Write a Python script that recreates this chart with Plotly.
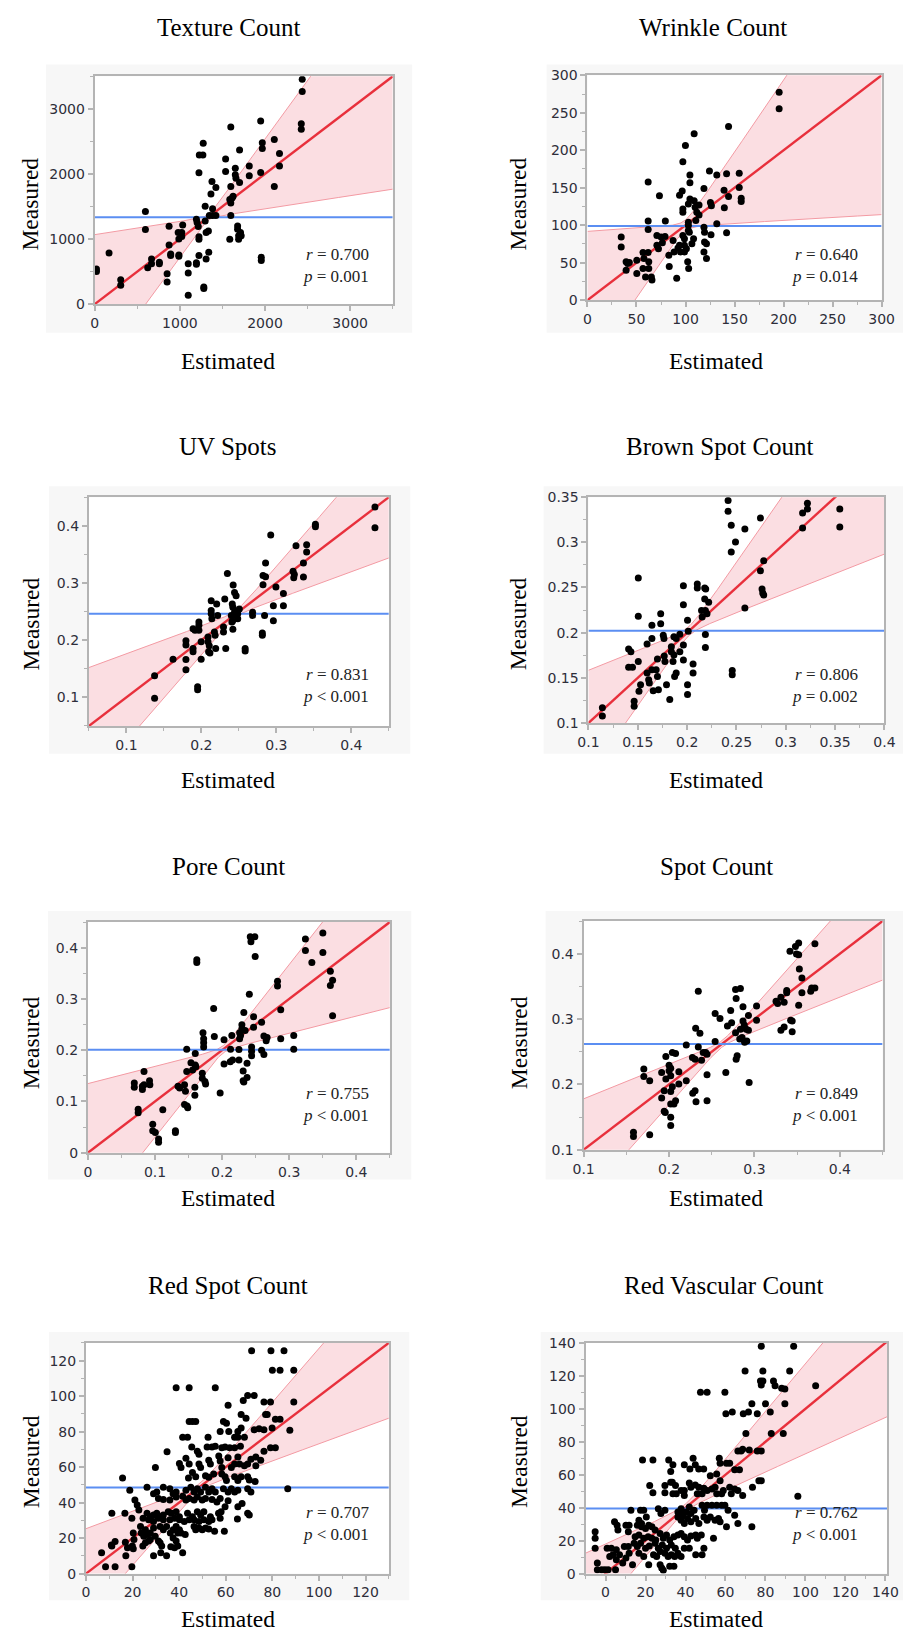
import numpy as np
import plotly.graph_objects as go

W, H = 916, 1643

# ---------------- data ----------------
titles = ["Texture Count", "Wrinkle Count", "UV Spots", "Brown Spot Count",
          "Pore Count", "Spot Count", "Red Spot Count", "Red Vascular Count"]
r_values = ["0.700", "0.640", "0.831", "0.806", "0.755", "0.849", "0.707", "0.762"]
p_values = ["= 0.001", "= 0.014", "&lt; 0.001", "= 0.002",
            "&lt; 0.001", "&lt; 0.001", "&lt; 0.001", "&lt; 0.001"]
mean_measured = [1333, 99, 0.246, 0.202, 0.201, 0.262, 48.5, 39.5]
band_slope_dev = [0.80, 0.924, 0.52, 0.57, 0.67, 0.48, 0.52, 0.45]
band_waist = [45, 7, 0.006, 0.005, 0.007, 0.005, 2.0, 2.2]
x_ranges = [[0, 3500], [0, 300], [0.05, 0.45], [0.1, 0.4], [0, 0.45], [0.1, 0.45], [0, 130], [-10, 141]]
y_ranges = [[0, 3500], [0, 300], [0.05, 0.45], [0.1, 0.35], [0, 0.45], [0.1, 0.45], [0, 130], [0, 140]]
x_dtick = [1000, 50, 0.1, 0.05, 0.1, 0.1, 20, 20]
y_dtick = [1000, 50, 0.1, 0.05, 0.1, 0.1, 20, 20]

texture_pts = [(20,540),(20,500),(168,785),(305,375),(305,289),(595,1424),(595,1145),(622,557),(667,694),(667,618),
    (759,643),(759,620),(850,466),(850,340),(873,1196),(873,907),(892,770),(892,745),(980,1100),(988,1000),(988,755),
    (988,735),(1022,1100),(1022,1039),(1033,1216),(1098,618),(1098,476),(1098,137),(1194,634),(1194,613),(1224,2017),
    (1228,2291),(1270,2291),(1274,2473),(1194,1302),(1202,1252),(1216,1191),(1224,1034),(1224,998),(1224,745),
    (1297,1505),(1297,1277),(1308,1100),(1308,694),(1281,263),(1281,238),(1335,1125),(1339,796),(1365,1692),
    (1377,1885),(1384,1464),(1384,1363),(1423,1793),(1423,1363),(1346,1363),(1537,2229),(1537,2037),(1598,2720),
    (1598,1808),(1586,1606),(1598,1555),(1613,1631),(1625,1657),(1598,1363),(1586,998),(1651,2087),(1651,1986),
    (1659,1935),(1678,1201),(1678,1150),(1690,1049),(1690,998),(1701,2366),(1701,1869),(1712,1100),(1720,1049),
    (1815,2123),(1815,1971),(1949,2812),(1949,2022),(1968,2478),(1968,2391),(1956,720),(1956,669),(2109,2529),
    (2109,1808),(2170,2316),(2170,2123),(2437,3455),(2437,3268),(2426,2771),(2426,2685)]

wrinkle_pts = [(34.4,84.1),(34.4,70.9),(39.4,51.1),(41,48.9),(39.4,40),(42.7,50.2),(50.3,53.3),(50.3,35.7),
    (56.6,63.4),(57.6,55.5),(56.6,42.3),(59.2,30.8),(61.9,157.7),(61.9,105.7),(61.9,94.3),(61.9,63.4),(62.5,51.1),
    (62.5,42.3),(65.2,30.8),(65.8,26.9),(70.8,86.3),(70.8,73.1),(72.4,68.7),(73.4,139.2),(75.1,84.1),(76.4,76.7),
    (79.1,85),(79.4,105.7),(83,59.9),(83.4,44.9),(87.3,79.7),(88.3,64.3),(91,29.1),(92.3,69.6),(93.9,73.1),(94.9,64.3),
    (93.9,140.1),(96.6,145.8),(97.3,184.6),(97.3,121.6),(97.3,117.2),(97.3,86.3),(98.9,81.9),(98.9,73.1),(98.9,64.3),
    (99.9,206.2),(100.9,68.7),(102.2,51.1),(103.2,42.3),(102.9,104),(102.9,99.6),(102.9,93),(103.9,90.7),(102.9,128.2),
    (104.5,167),(104.5,156.8),(104.5,134.8),(106.5,75.3),(108.2,81.9),(108.8,222),(108.8,132.6),(109.8,123.8),
    (111.5,117.2),(110.5,106.2),(113.8,126.9),(113.8,113.7),(118.8,148.9),(118.8,97.4),(119.4,90.7),(119.4,77.5),
    (121.4,75.3),(118.8,64.3),(121.4,55.5),(124.4,172.2),(125.4,130.4),(126.4,126),(126,87.2),(131.9,167),(131.9,101.8),
    (139.3,146.7),(139.6,123.3),(141.9,168.7),(141.9,89.9),(143.9,231.7),(143.9,138.3),(154.8,169.2),(154.8,150.2),
    (156.8,136.1),(156.8,131.7),(195.5,277.5),(195.5,255.5)]

uv_pts = [(0.1376,0.1379),(0.1376,0.0983),(0.1622,0.1667),(0.1794,0.1989),(0.1794,0.1914),(0.1794,0.1661),
    (0.1794,0.1483),(0.1889,0.2201),(0.1915,0.2172),(0.1889,0.1856),(0.1889,0.1799),(0.195,0.1184),(0.195,0.1132),
    (0.1967,0.2316),(0.1967,0.2259),(0.1967,0.2172),(0.1997,0.1971),(0.1997,0.1667),(0.2088,0.2057),(0.2088,0.1971),
    (0.2105,0.1902),(0.2096,0.1799),(0.2114,0.1776),(0.2131,0.269),(0.2131,0.2517),(0.2131,0.246),(0.214,0.2374),
    (0.2174,0.2144),(0.2183,0.2086),(0.2204,0.2632),(0.2191,0.1856),(0.2217,0.2431),(0.2295,0.223),(0.2295,0.2144),
    (0.2312,0.2718),(0.2325,0.1856),(0.2347,0.3167),(0.2399,0.2431),(0.2407,0.2316),(0.2416,0.2333),(0.2412,0.2632),
    (0.242,0.2575),(0.2424,0.2966),(0.242,0.219),(0.2442,0.2833),(0.2442,0.2489),(0.2463,0.2431),(0.2485,0.2374),
    (0.2506,0.2546),(0.2463,0.2776),(0.2485,0.246),(0.2584,0.1856),(0.2584,0.181),(0.2683,0.2489),(0.2683,0.2431),
    (0.2813,0.2126),(0.2813,0.2086),(0.2822,0.2971),(0.2822,0.3132),(0.2843,0.2431),(0.2856,0.335),(0.2856,0.3109),
    (0.2925,0.3839),(0.296,0.2603),(0.296,0.2339),(0.2994,0.2931),(0.3094,0.2816),(0.3094,0.2603),(0.3223,0.3207),
    (0.3232,0.3092),(0.324,0.315),(0.3262,0.3649),(0.3361,0.335),(0.3361,0.3103),(0.3404,0.3667),(0.3404,0.354),
    (0.3521,0.4029),(0.3521,0.3983),(0.4315,0.4328),(0.4315,0.3966)]

brown_pts = [(0.1141,0.1168),(0.1141,0.1077),(0.1407,0.1819),(0.143,0.1789),(0.1446,0.1618),(0.1407,0.1618),
    (0.1463,0.1241),(0.1463,0.1186),(0.1505,0.2604),(0.1505,0.2181),(0.1505,0.168),(0.1512,0.1351),(0.1528,0.1424),
    (0.1594,0.1874),(0.1594,0.1552),(0.1610,0.1479),(0.1617,0.1442),(0.1643,0.2082),(0.1643,0.1936),(0.1643,0.1588),
    (0.1656,0.1358),(0.1686,0.1588),(0.1699,0.1515),(0.1709,0.1369),(0.1699,0.1709),(0.1732,0.221),(0.1732,0.21),
    (0.1758,0.1972),(0.1765,0.1936),(0.1768,0.1742),(0.1775,0.168),(0.1791,0.1424),(0.1824,0.1259),(0.184,0.1844),
    (0.184,0.1789),(0.1857,0.168),(0.1866,0.1753),(0.1866,0.1954),(0.1889,0.1936),(0.1926,0.1983),(0.1873,0.1515),
    (0.1889,0.1552),(0.1926,0.1789),(0.1962,0.252),(0.1962,0.2308),(0.1962,0.1863),(0.1962,0.1698),(0.2004,0.2137),
    (0.2011,0.2016),(0.2004,0.1424),(0.2004,0.1314),(0.206,0.1654),(0.206,0.1552),(0.2103,0.2539),(0.2103,0.2495),
    (0.2146,0.2246),(0.2152,0.2173),(0.2178,0.2495),(0.2188,0.2484),(0.2178,0.2374),(0.2185,0.2246),(0.2201,0.221),
    (0.2185,0.198),(0.2185,0.1837),(0.2218,0.2338),(0.2415,0.3463),(0.2415,0.3343),(0.2447,0.3189),(0.2447,0.2893),
    (0.2457,0.1581),(0.2457,0.1534),(0.249,0.3003),(0.2585,0.3149),(0.2585,0.2272),(0.2743,0.327),(0.2743,0.2685),
    (0.2759,0.2484),(0.2766,0.244),(0.2776,0.2418),(0.2776,0.2795),(0.317,0.3325),(0.317,0.316),(0.3219,0.3434),
    (0.3219,0.3368),(0.3547,0.3368),(0.3547,0.3171)]

pore_pts = [(0.0691,0.1359),(0.0691,0.1276),(0.0749,0.0846),(0.0749,0.0782),(0.0812,0.1295),(0.0812,0.1231),
    (0.0836,0.1327),(0.0836,0.1583),(0.0918,0.1404),(0.0923,0.1327),(0.0966,0.0558),(0.0966,0.0429),(0.1005,0.0397),
    (0.1053,0.0269),(0.1053,0.0205),(0.1116,0.084),(0.1304,0.0429),(0.1304,0.0397),(0.1343,0.1295),(0.1367,0.1263),
    (0.144,0.1327),(0.1454,0.1199),(0.144,0.0942),(0.1478,0.091),(0.1488,0.0878),(0.1473,0.2019),(0.1473,0.1583),
    (0.1536,0.1756),(0.156,0.1615),(0.16,0.1936),(0.16,0.1712),(0.1609,0.1679),(0.1594,0.1276),(0.1594,0.1122),
    (0.1623,0.3763),(0.1623,0.3712),(0.1705,0.1551),(0.1705,0.1455),(0.1715,0.234),(0.1725,0.2224),(0.1725,0.2147),
    (0.1725,0.2064),(0.1744,0.1391),(0.1754,0.134),(0.1874,0.2814),(0.1884,0.2269),(0.1971,0.1167),(0.2029,0.2205),
    (0.2029,0.1731),(0.2126,0.2019),(0.2145,0.2288),(0.2121,0.1776),(0.2155,0.1808),(0.2251,0.1808),(0.2261,0.2224),
    (0.2275,0.2288),(0.2261,0.234),(0.2295,0.2494),(0.2295,0.2417),(0.2251,0.2013),(0.2314,0.1596),(0.2314,0.1404),
    (0.2324,0.1378),(0.2324,0.2737),(0.2343,0.2385),(0.2372,0.1744),(0.2372,0.1468),(0.2406,0.309),(0.242,0.4212),
    (0.243,0.4115),(0.2488,0.4212),(0.244,0.2064),(0.244,0.1981),(0.244,0.1891),(0.2469,0.2654),(0.2469,0.2449),
    (0.2493,0.3827),(0.2589,0.2545),(0.2589,0.2),(0.2623,0.1917),(0.2623,0.2276),(0.2657,0.2186),(0.2671,0.225),
    (0.2826,0.3346),(0.2826,0.325),(0.2874,0.2788),(0.2874,0.2224),(0.3068,0.2288),(0.3068,0.2019),(0.3242,0.4167),
    (0.3242,0.3942),(0.3338,0.3712),(0.3502,0.4288),(0.3502,0.3904),(0.3614,0.3538),(0.3614,0.3263),(0.3647,0.3365),
    (0.3647,0.2673)]

spot_pts = [(0.1584,0.1269),(0.1584,0.1203),(0.1705,0.2234),(0.1705,0.2122),(0.1774,0.2056),(0.1774,0.1228),
    (0.1914,0.2183),(0.1914,0.1792),(0.1944,0.1904),(0.1944,0.1589),(0.1956,0.1569),(0.1963,0.2426),(0.1963,0.2081),
    (0.2001,0.2294),(0.2001,0.2208),(0.202,0.2249),(0.202,0.2132),(0.202,0.1893),(0.202,0.17),(0.202,0.1497),
    (0.202,0.1371),(0.2039,0.2487),(0.2077,0.2472),(0.2039,0.1964),(0.2058,0.17),(0.2077,0.1751),(0.2115,0.2193),
    (0.2115,0.2005),(0.2202,0.2604),(0.2202,0.2056),(0.2274,0.2411),(0.2305,0.2386),(0.2278,0.1863),(0.2305,0.1904),
    (0.2312,0.2858),(0.2316,0.1736),(0.2343,0.2574),(0.2343,0.3426),(0.2362,0.2782),(0.2381,0.2371),(0.24,0.2487),
    (0.243,0.2487),(0.2445,0.2147),(0.2445,0.1751),(0.2445,0.2462),(0.254,0.3086),(0.254,0.2655),(0.2597,0.301),
    (0.2665,0.2183),(0.2684,0.2893),(0.2722,0.3132),(0.2733,0.2944),(0.2779,0.3452),(0.2786,0.3315),(0.2779,0.2792),
    (0.2786,0.2386),(0.2798,0.2437),(0.2828,0.2695),(0.2836,0.2843),(0.2836,0.3467),(0.2855,0.2716),(0.2866,0.3188),
    (0.2866,0.297),(0.2881,0.2909),(0.2904,0.2843),(0.2885,0.2645),(0.2911,0.2665),(0.293,0.2827),(0.293,0.3056),
    (0.2938,0.203),(0.3025,0.3198),(0.3025,0.2980),(0.3253,0.3274),(0.3272,0.3239),(0.331,0.3335),(0.331,0.2827),
    (0.3348,0.2878),(0.3348,0.3259),(0.3378,0.3437),(0.3378,0.3401),(0.3416,0.4036),(0.3424,0.298),(0.3442,0.297),
    (0.3442,0.2807),(0.348,0.4112),(0.3492,0.3995),(0.3518,0.3985),(0.3518,0.4162),(0.3518,0.3213),(0.3526,0.3766),
    (0.3556,0.3629),(0.3556,0.3401),(0.3659,0.3426),(0.367,0.3477),(0.3708,0.3477),(0.3708,0.4152)]

redspot_pts = [(71.1,125.5),(79.4,125.5),(85,125.5),(80,114.6),(83.3,114.6),(89.2,114.6),(38.7,104.7),(44.3,104.7),
    (55.5,104.7),(89.2,96.7),(67.5,97.6),(69.4,100.3),(72.2,100.3),(76.4,96.7),(79.2,96.7),(61,94.9),(66.6,89.7),
    (68.7,87.5),(77.1,89.7),(77.8,89.7),(81.3,86.9),(83.3,86.9),(44.3,85.7),(45.7,85.7),(47.1,85.7),(59,85.7),
    (60.3,84.7),(41.5,76.8),(43.6,76.8),(52.4,76.8),(57.6,80.1),(61.3,80.1),(65.2,80.1),(66.6,82),(63.8,76.8),
    (65.2,76.8),(68,76.8),(72.2,81),(74.3,81.6),(76.4,81),(79.9,82),(87.5,80.7),(45.4,71.3),(47.8,69),(48.5,67.2),
    (34.8,68.7),(52,71.3),(54.1,71.3),(55.5,71.8),(58.3,70.9),(59.7,71.3),(61.7,70.9),(63.8,70.9),(66.3,71.8),
    (79.2,70.9),(81.3,70.9),(76.4,69),(42.9,65),(44.3,61.7),(48.5,61.7),(49.2,59.8),(52.7,63.9),(53.4,61.7),(57,66.3),
    (57.6,63.5),(58.3,59.8),(61,65.3),(62.4,59.8),(63.8,61.7),(65.2,65.7),(65.9,61.7),(68,60.7),(69.4,61.7),(70.8,64.4),
    (72.9,65.7),(72.9,60.7),(75,63.9),(29.8,59.8),(40.1,62),(40.8,59.8),(15.7,53.9),(44,53.9),(45.7,57),(47.1,54.6),
    (51.3,55.2),(52.7,54.3),(54.8,56.1),(58.3,56.1),(59.7,54.6),(60.3,52.4),(63.8,54.6),(65.2,52.4),(66.6,54.6),
    (69.4,54.6),(70.1,52.8),(72.6,51.9),(26.2,48.7),(33.2,48.7),(36,47.8),(38.7,46),(18.8,46.9),(42.9,46.9),(45,48.7),
    (46.4,46),(47.8,47.8),(49.2,46),(51.3,48.7),(52.7,46),(54.1,47.8),(55.5,46),(59,47.8),(61,46),(62.4,47.8),(63.8,46),
    (65.2,46.9),(69.4,47.8),(70.8,46),(86.6,47.8),(29,45),(30.4,46),(31.1,42.3),(33.2,41.7),(36,41.4),(37.4,45),
    (38.7,43.2),(41.5,43.6),(42.9,41.4),(44.3,42.3),(46.4,41.4),(47.8,43.2),(49.9,41.4),(51.3,42.3),(54.1,41.7),
    (56.2,40.4),(57.6,42.3),(59.7,37.7),(61,41),(65.2,37.7),(67,39.5),(21,41.4),(22,38.6),(22.7,35.8),(16.7,34),
    (11.1,34),(26.2,34),(27.6,32.1),(29,33),(30.4,34),(31.8,32.1),(33.2,33),(35.3,34.9),(36.6,34),(38.7,34.9),
    (40.1,32.1),(43.6,34),(45.7,32.1),(47.8,34.9),(49.2,33),(50.6,34.9),(53.4,32.1),(56.9,34),(58,34.9),(69.4,34),
    (70.1,33),(19.7,31.2),(24.5,31.2),(26.9,30.3),(29,29.4),(31.1,31.2),(33.2,30.3),(36,30.3),(38,31.2),(40.1,30.3),
    (42.2,29.4),(44.3,30.3),(46.4,30.3),(48.5,29.4),(50.6,30.3),(52.7,29.4),(54.1,30.3),(57.6,31.2),(65,30.8),
    (23.4,26.6),(25.5,24.7),(27.6,22.9),(29,25.7),(31.8,26.6),(33.2,24.7),(34.6,26.6),(37.4,24.7),(38.7,26.6),
    (40.1,24.7),(40.8,22.9),(46.4,26.6),(47.1,24.7),(48.5,25.7),(49.9,24.7),(51.3,25.7),(52.7,25.1),(55.2,23.8),
    (59.4,23.8),(20.3,22.9),(23.7,22.9),(24.8,21),(26.2,22),(27.6,19.2),(29.7,21),(31.1,18.3),(36.2,22.9),(37.4,20.1),
    (38.7,18.3),(39.4,22.9),(42.6,22),(10.9,16.1),(12.5,18.1),(16.9,17.7),(20.6,19.2),(19.9,15.5),(24.4,15.5),
    (25.5,17.4),(26.9,18.3),(31.8,17.4),(32.5,15.5),(36.4,15.1),(38,14.6),(39.4,15.5),(17.8,14.6),(20.3,14),(6.7,11.8),
    (17.1,10),(29,10),(32.1,11.8),(34.6,10),(41.5,11.8),(8.4,3.9),(12.5,3.9),(19.7,3.9),(11.1,15.5)]

redvasc_pts = [(77.9,138),(94.1,138),(69.8,123),(78.7,123),(92.1,123),(77.5,116.8),(78.7,116.8),(77.9,114.4),
    (84,116.8),(84.8,114),(88.1,112.4),(89.7,112),(105.1,114),(47.5,110),(50.8,110),(59.7,110),(73.2,103),(80,103),
    (89.7,103),(60.2,97),(63.4,98),(68.9,97),(71.5,98),(75.9,97),(82.4,98),(70.2,85),(82.9,85),(88.9,85),(66.2,74.4),
    (67.8,74.4),(68.6,75.4),(71.9,75),(75.9,74.4),(77.9,74.4),(76.7,56.4),(77.9,56.4),(18.5,69),(23.7,69),(31.6,69),
    (33.7,66),(39.4,66),(43.8,70),(42.2,63.4),(44.9,66),(46.6,63.4),(49.1,63.4),(56.9,70),(57.3,67),(60.5,67),(62.1,67),
    (64.6,63),(67,63),(52.4,59.4),(55.6,60.4),(32.6,62),(22.1,53.4),(23.7,49),(29.7,53.4),(29.7,49),(32.6,55.4),
    (33.4,55.4),(35,53.4),(33.7,48.4),(35.4,48.4),(37.8,50.4),(41.9,55),(42.7,52.4),(44.9,53.8),(39.4,50.4),(39.4,47.4),
    (46.7,52.4),(49.2,51.8),(50.8,50.4),(53.2,51.4),(54.8,52.4),(55.6,48.4),(58.1,48.4),(58.9,50.4),(57.3,56.4),
    (62.1,52.4),(62.9,48.4),(64.6,51.4),(66.2,50.4),(68.6,47.4),(73.5,52.4),(96.2,47),(45.9,48.4),(48.3,48.4),
    (48.3,41.4),(50.8,41.4),(53.2,41.4),(55.6,41.4),(58.1,41.4),(59.7,41.4),(61.3,38.4),(49.5,38.4),(12.7,38.4),
    (17.5,38.4),(19.1,38.4),(26.4,39.4),(27.7,36.4),(29.7,38.4),(36.2,37.4),(37.8,39.4),(38.6,35.4),(40.2,37.4),
    (41.9,40.4),(42.7,36.4),(44.3,38.4),(36.2,34.4),(37.8,32.4),(39.4,30.4),(41,33.4),(42.7,31.4),(45.1,33.4),
    (46.7,30.4),(49.2,34.4),(50.8,32.4),(52.4,34.4),(54.8,32.4),(56.5,33.4),(57.3,31.4),(64.6,35.4),(66.2,30.4),
    (73.2,28.4),(60.5,28.4),(16.7,32.4),(18,30.4),(20.4,34.4),(15.9,29.4),(20,27.4),(21.6,29.4),(23.2,28.4),(24.8,26.4),
    (4.5,31.4),(5.8,29.4),(6.2,26.4),(10.2,29.4),(11.8,29.4),(11.4,25.4),(14.8,22.4),(16.7,23.4),(19.1,21.4),
    (21.3,22.4),(23.2,21.4),(25.1,20.4),(27.3,24.4),(28.9,21.4),(30.5,23.4),(32.1,20.4),(34.2,22.4),(36.2,23.4),
    (37.8,24.4),(39.4,22.4),(41,20.4),(42.7,22.8),(45.1,23.4),(45.9,21.4),(47.9,23.4),(54,21.4),(14.3,18.4),(15.9,16.4),
    (17.5,18.4),(20,15.4),(21.9,16.8),(24.8,18.4),(26.4,15.4),(28.4,17.4),(30.5,15.4),(32.9,17.4),(34.9,15.4),
    (39.4,15.4),(41.9,15.4),(45.1,11.4),(48.3,11.4),(49.2,15.4),(-5.2,25.4),(-5.2,21.4),(-5.2,15.4),(-4.1,6.4),
    (-4.1,2.4),(-1.9,2.4),(-0.3,2.4),(1.3,2.4),(0.8,15.4),(2.9,15.4),(5.4,14.4),(2.1,10.4),(3.7,11.4),(5.4,8.4),
    (7,11.4),(8.6,6.4),(10.2,9.4),(11.8,12.4),(13.5,5.4),(5,2.4),(9.4,16.4),(11.4,16.4),(16.7,12.4),(19.1,10.4),
    (21.6,5.4),(24,11.4),(25.6,10.4),(27.3,13.4),(27.3,5.4),(28.1,3.4),(28.9,2),(29.7,12.4),(31.3,10.4),(32.9,11.4),
    (34.6,10.4),(36.2,12.4),(37.8,10.4),(32.1,4.4),(34.2,4.4),(18,28.4)]

panel_points = [texture_pts, wrinkle_pts, uv_pts, brown_pts, pore_pts, spot_pts, redspot_pts, redvasc_pts]

# ---------------- layout geometry (pixels) ----------------
plot_boxes = [(86, 69, 392, 299), (592, 68, 894, 295), (80, 494, 388, 725), (593, 494, 897, 722),
              (79, 923, 389, 1156), (588, 922, 895, 1153), (77, 1348, 388, 1581), (590, 1348, 900, 1581)]
bg_boxes = [(36, 57, 412, 328), (550, 57, 916, 328), (39, 483, 410, 753), (547, 483, 916, 753),
            (38, 912, 411, 1183), (549, 912, 916, 1183), (39, 1337, 409, 1608), (544, 1337, 916, 1608)]
title_pos = [(223, 20), (721, 20), (223, 443), (728, 443), (223, 867), (724, 867), (223, 1290), (732, 1290)]
ylab_pos = [(20, 198), (521, 198), (20, 622), (521, 622), (20, 1045), (521, 1045), (20, 1468), (521, 1468)]
xlab_pos = [(223, 356), (724, 356), (223, 780), (724, 780), (223, 1202), (724, 1202), (223, 1627), (724, 1627)]
stat_pos = [(370, 249, 271), (872, 249, 271), (370, 673, 695), (872, 673, 695),
            (370, 1096, 1118), (872, 1096, 1118), (370, 1519, 1542), (872, 1519, 1542)]

SERIF = "Liberation Serif, Times New Roman, serif"
SANS = "DejaVu Sans, Verdana, sans-serif"
AXIS_GRAY = "#b4b4b4"

fig = go.Figure()
shapes = []
annotations = []
layout_axes = {}

def px_x(v):
    return v / W

def px_y(v):
    return 1 - v / H

for i in range(8):
    n = i + 1
    xa = "x" if n == 1 else f"x{n}"
    ya = "y" if n == 1 else f"y{n}"
    xr, yr = x_ranges[i], y_ranges[i]
    m, k, h = mean_measured[i], band_slope_dev[i], band_waist[i]

    # confidence band around the fit (Actual by Predicted)
    xs = np.linspace(xr[0], xr[1], 400)
    half = np.sqrt(h ** 2 + (k * (xs - m)) ** 2)
    lower = xs - half
    upper = xs + half
    fig.add_trace(go.Scatter(x=xs, y=lower, mode="lines", line=dict(color="#f39aa3", width=1),
                             xaxis=xa, yaxis=ya, showlegend=False, hoverinfo="skip"))
    fig.add_trace(go.Scatter(x=xs, y=upper, mode="lines", line=dict(color="#f39aa3", width=1),
                             fill="tonexty", fillcolor="rgba(248,190,198,0.5)",
                             xaxis=xa, yaxis=ya, showlegend=False, hoverinfo="skip"))
    # fit line
    fig.add_trace(go.Scatter(x=[xr[0], xr[1]], y=[xr[0], xr[1]], mode="lines",
                             line=dict(color="#e8303c", width=2.4),
                             xaxis=xa, yaxis=ya, showlegend=False, hoverinfo="skip"))
    # mean line
    fig.add_trace(go.Scatter(x=[xr[0], xr[1]], y=[m, m], mode="lines",
                             line=dict(color="#5b8ef2", width=2),
                             xaxis=xa, yaxis=ya, showlegend=False, hoverinfo="skip"))
    pts = panel_points[i]
    fig.add_trace(go.Scatter(x=[p[0] for p in pts], y=[p[1] for p in pts], mode="markers",
                             marker=dict(color="black", size=7, line=dict(width=0)),
                             xaxis=xa, yaxis=ya, showlegend=False))

    x0, y0, x1, y1 = plot_boxes[i]
    axcommon = dict(showgrid=False, zeroline=False, showline=True, mirror=True,
                    linecolor=AXIS_GRAY, linewidth=2, ticks="outside", ticklen=5,
                    tickwidth=1.5, tickcolor=AXIS_GRAY, exponentformat="none",
                    tickfont=dict(family=SANS, size=14, color="#2e2e3a"), fixedrange=True)
    layout_axes["xaxis" if n == 1 else f"xaxis{n}"] = dict(
        axcommon, domain=[px_x(x0), px_x(x1)], range=xr, anchor=ya, tick0=0, dtick=x_dtick[i],
        minor=dict(ticks="outside", ticklen=3, tickwidth=1, tickcolor=AXIS_GRAY, dtick=x_dtick[i] / 2, tick0=0))
    layout_axes["yaxis" if n == 1 else f"yaxis{n}"] = dict(
        axcommon, domain=[px_y(y1), px_y(y0)], range=yr, anchor=xa, tick0=0, dtick=y_dtick[i],
        minor=dict(ticks="outside", ticklen=3, tickwidth=1, tickcolor=AXIS_GRAY, dtick=y_dtick[i] / 2, tick0=0))

    bx0, by0, bx1, by1 = bg_boxes[i]
    shapes.append(dict(type="rect", xref="paper", yref="paper", x0=px_x(bx0), x1=px_x(bx1),
                       y0=px_y(by1), y1=px_y(by0), fillcolor="#f7f7f7", line=dict(width=0), layer="below"))
    shapes.append(dict(type="rect", xref="paper", yref="paper", x0=px_x(x0), x1=px_x(x1),
                       y0=px_y(y1), y1=px_y(y0), fillcolor="white", line=dict(width=0), layer="below"))

    tx, ty = title_pos[i]
    annotations.append(dict(text=titles[i], x=px_x(tx), y=px_y(ty), xref="paper", yref="paper",
                            showarrow=False, xanchor="center", yanchor="middle",
                            font=dict(family=SERIF, size=25, color="black")))
    lx, ly = ylab_pos[i]
    annotations.append(dict(text="Measured", x=px_x(lx), y=px_y(ly), xref="paper", yref="paper",
                            showarrow=False, xanchor="center", yanchor="middle", textangle=-90,
                            font=dict(family=SERIF, size=23.5, color="black")))
    ex, ey = xlab_pos[i]
    annotations.append(dict(text="Estimated", x=px_x(ex), y=px_y(ey), xref="paper", yref="paper",
                            showarrow=False, xanchor="center", yanchor="middle",
                            font=dict(family=SERIF, size=23.5, color="black")))
    sx, sy1, sy2 = stat_pos[i]
    annotations.append(dict(text=f"<i>r</i> = {r_values[i]}", x=px_x(sx), y=px_y(sy1), xref="paper",
                            yref="paper", showarrow=False, xanchor="right", yanchor="middle",
                            font=dict(family=SERIF, size=17, color="#222222")))
    annotations.append(dict(text=f"<i>p</i> {p_values[i]}", x=px_x(sx), y=px_y(sy2), xref="paper",
                            yref="paper", showarrow=False, xanchor="right", yanchor="middle",
                            font=dict(family=SERIF, size=17, color="#222222")))

fig.update_layout(width=W, height=H, margin=dict(l=0, r=0, t=0, b=0),
                  paper_bgcolor="white", plot_bgcolor="rgba(0,0,0,0)",
                  shapes=shapes, annotations=annotations, showlegend=False, **layout_axes)

fig.write_html("out.html")
